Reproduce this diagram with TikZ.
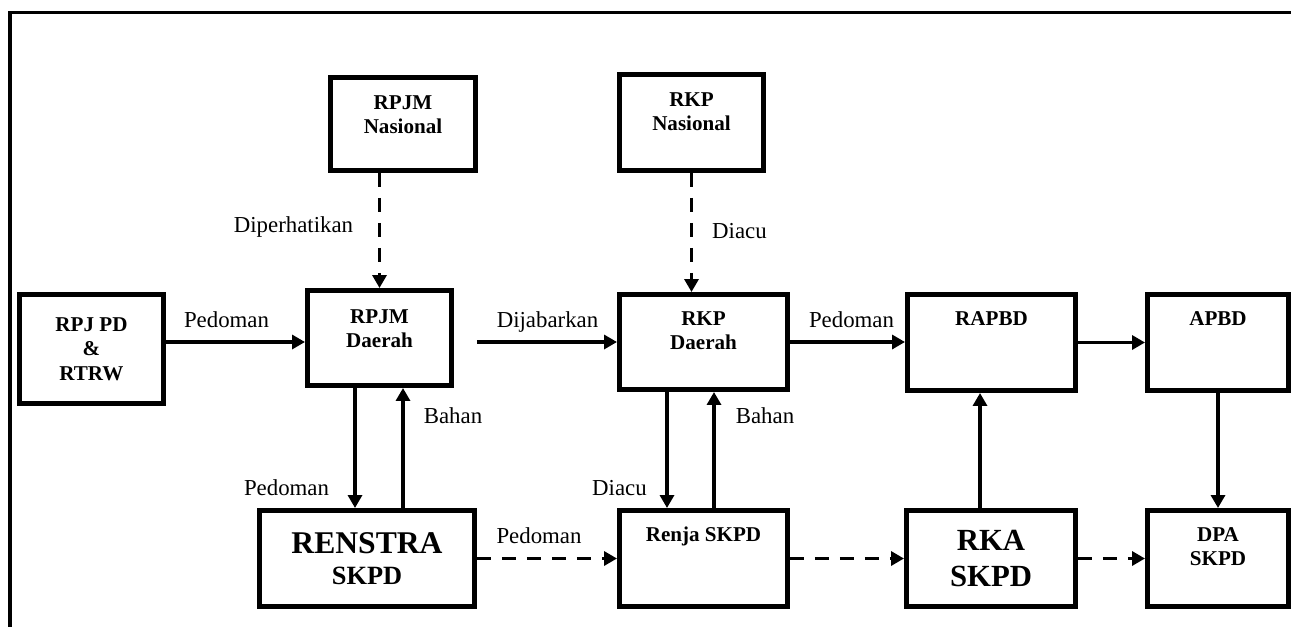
\documentclass[tikz,border=0pt]{standalone}
\usepackage{fontspec}
\setmainfont{Liberation Serif}
\usepackage{tikz}
\usetikzlibrary{arrows.meta,positioning}

\tikzstyle{box}=[draw,line width=0.1cm,inner sep=0pt,align=center,font=\bfseries\fontsize{12}{14}\selectfont]
\tikzstyle{head}=[inner sep=0pt,align=center,font=\bfseries\fontsize{12}{14}\selectfont]
\tikzstyle{lbl}=[inner sep=0pt,anchor=base,font=\fontsize{13}{15}\selectfont]
\tikzstyle{flow}=[-{Triangle[length=0.26cm,width=0.28cm]},line width=0.07cm]
\tikzstyle{dashflow}=[flow,dash pattern=on 0.28cm off 0.22cm]

\begin{document}
\begin{tikzpicture}[x=0.02cm,y=-0.02cm]

\useasboundingbox (0,0) rectangle (1291,626);

%%% Frame

\draw[line width=0.07cm] (10,640) -- (10,12.5) -- (1300,12.5);

%%% Top Row

\node[box,minimum width=2.9cm,minimum height=1.86cm] (rpjmn) at (403,124) {};
\node[head,below=0.4cm of rpjmn.north] (rpjmn-t) {RPJM\\Nasional};

\node[box,minimum width=2.88cm,minimum height=1.92cm] (rkpn) at (691.5,122.5) {};
\node[head,below=0.4cm of rkpn.north] (rkpn-t) {RKP\\Nasional};

%%% Middle Row

\node[box,minimum width=2.88cm,minimum height=2.18cm] (rpjpd) at (91.5,349)
{RPJ PD\\\&\\RTRW};

\node[box,minimum width=2.88cm,minimum height=1.9cm] (rpjmd) at (379.5,338) {};
\node[head,below=0.42cm of rpjmd.north] (rpjmd-t) {RPJM\\Daerah};

\node[box,minimum width=3.36cm,minimum height=1.9cm] (rkpd) at (703.5,342) {};
\node[head,below=0.38cm of rkpd.north] (rkpd-t) {RKP\\Daerah};

\node[box,minimum width=3.36cm,minimum height=1.92cm] (rapbd) at (991.5,342.5) {};
\node[head,below=0.38cm of rapbd.north] (rapbd-t) {RAPBD};

\node[box,minimum width=2.82cm,minimum height=1.92cm] (apbd) at (1218,342.5) {};
\node[head,below=0.38cm of apbd.north] (apbd-t) {APBD};

%%% Bottom Row

\node[box,minimum width=4.3cm,minimum height=1.92cm] (renstra) at (367,558.5)
{{\fontsize{18}{20}\selectfont RENSTRA}\\[4pt]{\fontsize{15}{17}\selectfont SKPD}};

\node[box,minimum width=3.36cm,minimum height=1.92cm] (renja) at (703.5,558.5) {};
\node[head,below=0.38cm of renja.north] (renja-t) {Renja SKPD};

\node[box,minimum width=3.38cm,minimum height=1.92cm,font=\bfseries\fontsize{17.5}{20.5}\selectfont] (rka) at (991,558.5)
{RKA\\SKPD};

\node[box,minimum width=2.82cm,minimum height=1.92cm] (dpa) at (1218,558.5) {};
\node[head,below=0.38cm of dpa.north] (dpa-t) {DPA\\SKPD};

%%% Dashed Arrows Down

\draw[dashflow] (rpjmd.north |- rpjmn.south) -- (rpjmd.north);
\node[lbl] (l-diperhatikan) at (293.5,232) {Diperhatikan};

\draw[dashflow] (rkpn.south) -- (rkpn.south |- rkpd.north);
\node[lbl] (l-diacu1) at (739.5,238) {Diacu};

%%% Middle Arrows

\draw[flow] (rpjpd.east |- rkpd) -- (rpjmd.west |- rkpd);
\node[lbl] (l-pedoman1) at (226.5,327) {Pedoman};

\draw[flow,shorten <=0.46cm] (rpjmd.east |- rkpd) -- (rkpd.west);
\node[lbl] (l-dijabarkan) at (547.5,327) {Dijabarkan};

\draw[flow] (rkpd.east) -- (rkpd.east -| rapbd.west);
\node[lbl] (l-pedoman2) at (851.5,327) {Pedoman};

\draw[flow] (rapbd) -- (apbd);

%%% Up and Down

\draw[flow] (355,0 |- rpjmd.south) -- (355,0 |- renstra.north);
\node[lbl] (l-pedoman3) at (286.5,495) {Pedoman};

\draw[flow] (403,0 |- renstra.north) -- (403,0 |- rpjmd.south);
\node[lbl] (l-bahan1) at (453,423) {Bahan};

\draw[flow] (667,0 |- rkpd.south) -- (667,0 |- renja.north);
\node[lbl] (l-diacu2) at (619.5,495) {Diacu};

\draw[flow] (714,0 |- renja.north) -- (714,0 |- rkpd.south);
\node[lbl] (l-bahan2) at (765,423) {Bahan};

\draw[flow] (980,0 |- rka.north) -- (980,0 |- rapbd.south);

\draw[flow] (apbd) -- (dpa);

%%% Bottom Dashed Arrows

\draw[dashflow] (renstra) -- (renja);
\node[lbl] (l-pedoman4) at (539,543) {Pedoman};

\draw[dashflow] (renja) -- (rka);

\draw[dashflow] (rka) -- (dpa);

\end{tikzpicture}
\end{document}
